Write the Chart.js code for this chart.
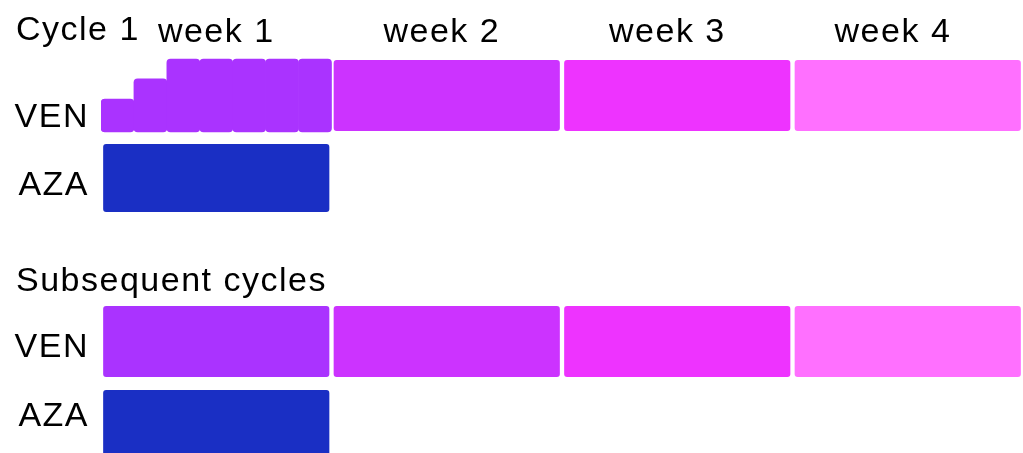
<!DOCTYPE html>
<html>
<head>
<meta charset="utf-8">
<title>VEN + AZA dosing schedule</title>
<script src="https://cdn.jsdelivr.net/npm/chart.js@4/dist/chart.umd.min.js"></script>
<style>
    html, body { margin: 0; padding: 0; background: #fff; }
    #wrap { width: 1023px; height: 453px; position: relative; }
</style>
</head>
<body>
<div id="wrap"><canvas id="schedule"></canvas></div>
<script>
// Data jadwal dosis: satuan x = hari (0..28), satuan y = tinggi satu baris
const weekLabels = ['week 1', 'week 2', 'week 3', 'week 4'];
const weekCenters = [0.5, 1.5, 2.5, 3.5];
const weekLabelDays = [3.5, 10.35, 17.2, 24.05];

const rowLabels = ['VEN', 'AZA', 'VEN', 'AZA'];
const rowLabelPos = [0.8, 1.74, 3.955, 4.9];
const sectionTitles = ['Cycle 1', 'Subsequent cycles'];
const sectionTitlePos = [-0.385, 3.05];

// [atas, bawah] tiap baris
const venC1Row = [0, 1];
const azaC1Row = [1.15, 2.11];
const venSubRow = [3.37, 4.37];
const azaSubRow = [4.52, 5.5];

// ramp-up VEN siklus 1 minggu 1 (fraksi tinggi penuh per hari)
const rampDays = [0.5, 1.5, 2.5, 3.5, 4.5, 5.5, 6.5];
const rampLevels = [0.45, 0.73, 1, 1, 1, 1, 1];

const venColors = ['#AA33FF', '#CC33FF', '#EE33FF', '#FF70FF'];
const azaColor = '#1A2FC4';

Chart.defaults.font.family = '"Liberation Sans", Arial, Helvetica, sans-serif';
Chart.defaults.font.size = 34;
Chart.defaults.color = '#000';

// Judul seksi ditulis di kiri, posisinya ikut skala y
const sectionTitlePlugin = {
    id: 'sectionTitles',
    beforeDraw(chart) {
        chart.ctx.letterSpacing = '1.5px';
    },
    afterDraw(chart) {
        const ctx = chart.ctx;
        const y = chart.scales.y;
        ctx.save();
        ctx.font = '34px "Liberation Sans", Arial, sans-serif';
        ctx.fillStyle = '#000';
        ctx.textAlign = 'left';
        ctx.textBaseline = 'middle';
        sectionTitles.forEach((t, i) => {
            ctx.fillText(t, 16, y.getPixelForValue(sectionTitlePos[i]));
        });
        ctx.restore();
    }
};

const barStyle = {
    borderRadius: 4,
    borderSkipped: false,
    borderWidth: 1,
    borderColor: 'rgba(255,255,255,0.3)',
    grouped: false,
    categoryPercentage: 1,
    barPercentage: 0.99
};

const datasets = [
    {
        label: 'VEN cycle 1 ramp-up',
        xAxisID: 'x',
        data: rampDays.map((d, i) => ({ x: d, y: [venC1Row[1] - rampLevels[i] * (venC1Row[1] - venC1Row[0]), venC1Row[1]] })),
        backgroundColor: venColors[0],
        ...barStyle,
        borderWidth: 0,
        barPercentage: 1
    },
    {
        label: 'VEN cycle 1',
        xAxisID: 'xw',
        data: weekCenters.slice(1).map(w => ({ x: w, y: venC1Row })),
        backgroundColor: venColors.slice(1),
        ...barStyle
    },
    {
        label: 'AZA cycle 1',
        xAxisID: 'xw',
        data: [{ x: weekCenters[0], y: azaC1Row }],
        backgroundColor: azaColor,
        ...barStyle
    },
    {
        label: 'VEN subsequent',
        xAxisID: 'xw',
        data: weekCenters.map(w => ({ x: w, y: venSubRow })),
        backgroundColor: venColors,
        ...barStyle
    },
    {
        label: 'AZA subsequent',
        xAxisID: 'xw',
        data: [{ x: weekCenters[0], y: azaSubRow }],
        backgroundColor: azaColor,
        ...barStyle
    }
];

// buang padding label di ujung sumbu supaya area plot pas
function noEdgePadding(s) {
    s.paddingTop = 0;
    s.paddingBottom = 0;
    s.paddingLeft = 0;
    s.paddingRight = 0;
}

new Chart(document.getElementById('schedule'), {
    type: 'bar',
    data: { datasets: datasets },
    options: {
        responsive: true,
        maintainAspectRatio: false,
        animation: false,
        layout: { padding: 0 },
        plugins: {
            legend: { display: false },
            tooltip: { enabled: false }
        },
        scales: {
            x: {
                type: 'linear',
                position: 'top',
                offset: false,
                min: 0,
                max: 28,
                grid: { display: false, drawTicks: false, offset: false },
                border: { display: false },
                ticks: {
                    padding: 2,
                    maxRotation: 0,
                    autoSkip: false,
                    callback: (v, i) => weekLabels[i]
                },
                afterBuildTicks: (s) => { s.ticks = weekLabelDays.map(v => ({ value: v })); },
                afterFit: (s) => { s.height = 55; noEdgePadding(s); }
            },
            xw: {
                type: 'linear',
                display: false,
                offset: false,
                grid: { offset: false },
                min: 0,
                max: 4,
                afterBuildTicks: (s) => { s.ticks = weekCenters.map(v => ({ value: v })); }
            },
            y: {
                type: 'linear',
                reverse: true,
                min: -0.055,
                max: 5.397,
                grid: { display: false, drawTicks: false },
                border: { display: false },
                ticks: {
                    padding: 12,
                    autoSkip: false,
                    callback: (v, i) => rowLabels[i]
                },
                afterBuildTicks: (s) => { s.ticks = rowLabelPos.map(v => ({ value: v })); },
                afterFit: (s) => { s.width = 101; noEdgePadding(s); }
            }
        }
    },
    plugins: [sectionTitlePlugin]
});
</script>
</body>
</html>
